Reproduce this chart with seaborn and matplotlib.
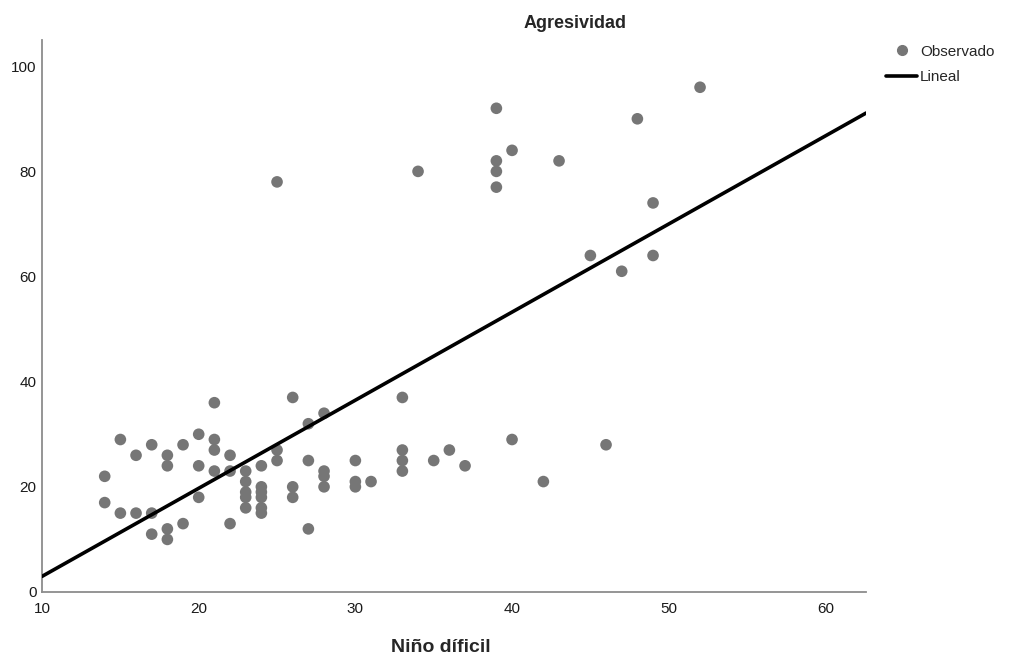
import numpy as np
import pandas as pd
import matplotlib
matplotlib.use("Agg")
import matplotlib.pyplot as plt
import seaborn as sns
from matplotlib.lines import Line2D

sns.set_style("white")
plt.rcParams["font.family"] = ["Liberation Sans", "DejaVu Sans"]

# Niño difícil (x) vs Agresividad (y)
nino_dificil = [
    14, 14, 15, 15, 16, 16, 17, 17, 17, 18, 18, 18, 18, 19, 19,
    20, 20, 20, 21, 21, 21, 21, 22, 22, 22,
    23, 23, 23, 23, 23, 24, 24, 24, 24, 24, 24,
    25, 25, 25, 26, 26, 26, 27, 27, 27, 28, 28, 28, 28,
    30, 30, 30, 31, 33, 33, 33, 33, 34, 35, 36, 37,
    39, 39, 39, 39, 40, 40, 42, 43, 45, 46, 47, 48, 49, 49, 52,
]
agresividad = [
    22, 17, 29, 15, 26, 15, 28, 15, 11, 26, 24, 12, 10, 28, 13,
    30, 24, 18, 36, 29, 27, 23, 26, 23, 13,
    23, 21, 19, 18, 16, 24, 20, 19, 18, 16, 15,
    78, 27, 25, 37, 20, 18, 32, 25, 12, 34, 23, 22, 20,
    25, 21, 20, 21, 37, 27, 25, 23, 80, 25, 27, 24,
    92, 82, 80, 77, 84, 29, 21, 82, 64, 28, 61, 90, 74, 64, 96,
]

df = pd.DataFrame({"nino": nino_dificil, "agr": agresividad})

X_LIM = (10, 62.6)
Y_LIM = (0, 105)
POINT_C = "#767676"
AXIS_C = "#8c8c8c"

fig = plt.figure(figsize=(10.13, 6.59), dpi=100)
ax = fig.add_axes([0.0415, 0.1017, 0.8135, 0.8377])

sns.scatterplot(data=df, x="nino", y="agr", ax=ax, color=POINT_C,
                s=70, edgecolor="none", zorder=3, legend=False)

# linear fit through the observed points
slope, intercept = np.polyfit(df["nino"], df["agr"], 1)
xs = np.array(X_LIM)
ax.plot(xs, intercept + slope * xs, color="black", lw=2.6, zorder=4)

ax.set_xlim(*X_LIM)
ax.set_ylim(*Y_LIM)
ax.set_xticks([10, 20, 30, 40, 50, 60])
ax.set_yticks([0, 20, 40, 60, 80, 100])
ax.tick_params(length=0, labelsize=11, colors="#1a1a1a")
ax.tick_params(axis="x", pad=7)
ax.tick_params(axis="y", pad=4)
ax.set_xlabel("")
ax.set_ylabel("")
sns.despine(ax=ax)
for sp in ("left", "bottom"):
    ax.spines[sp].set_color(AXIS_C)
    ax.spines[sp].set_linewidth(1.3)

fig.text(0.568, 0.964, "Agresividad", ha="center", va="center",
         fontsize=13, fontweight="bold")
fig.text(0.435, 0.017, "Niño díficil", ha="center", va="center",
         fontsize=14, fontweight="bold")

handles = [
    Line2D([], [], marker="o", color=POINT_C, ls="none", markersize=7),
    Line2D([], [], color="black", lw=2.6),
]
fig.legend(handles, ["Observado", "Lineal"], loc="upper left",
           bbox_to_anchor=(0.875, 0.932), frameon=False, fontsize=11,
           handlelength=2.0, handletextpad=0.2, labelspacing=0.75,
           borderaxespad=0, borderpad=0)

fig.savefig("out.png", dpi=100)
